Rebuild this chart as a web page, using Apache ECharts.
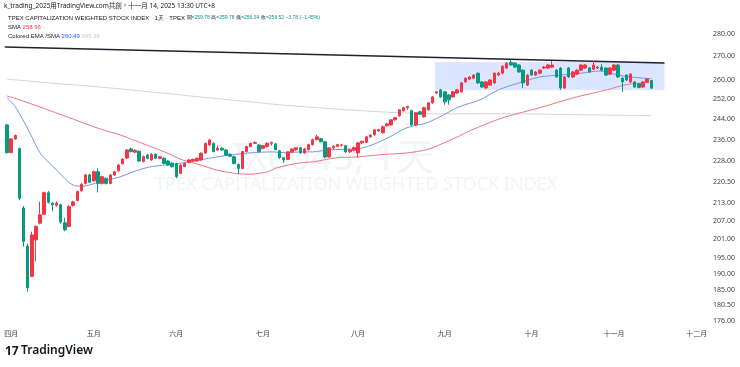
<!DOCTYPE html>
<html><head><meta charset="utf-8">
<script src="https://cdn.jsdelivr.net/npm/echarts@6/dist/echarts.min.js"></script>
<style>html,body{margin:0;padding:0;background:#fff}#c{width:740px;height:367px}</style>
</head><body><div id="c"></div>
<script>
// trading days shown (2025)
const dates = ['03-31',
'04-01','04-02','04-07','04-08','04-09','04-10','04-11','04-14','04-15','04-16','04-17','04-18','04-21','04-22','04-23','04-24','04-25','04-28','04-29','04-30',
'05-02','05-05','05-06','05-07','05-08','05-09','05-12','05-13','05-14','05-15','05-16','05-19','05-20','05-21','05-22','05-23','05-26','05-27','05-28','05-29',
'06-02','06-03','06-04','06-05','06-06','06-09','06-10','06-11','06-12','06-13','06-16','06-17','06-18','06-19','06-20','06-23','06-24','06-25','06-26','06-27','06-30',
'07-01','07-02','07-03','07-04','07-07','07-08','07-09','07-10','07-11','07-14','07-15','07-16','07-17','07-18','07-21','07-22','07-23','07-24','07-25','07-28','07-29','07-30','07-31',
'08-01','08-04','08-05','08-06','08-07','08-08','08-11','08-12','08-13','08-14','08-15','08-18','08-19','08-20','08-21','08-22','08-25','08-26','08-27','08-28','08-29',
'09-01','09-02','09-03','09-04','09-05','09-08','09-09','09-10','09-11','09-12','09-15','09-16','09-17','09-18','09-19','09-22','09-23','09-24','09-25','09-26','09-30',
'10-01','10-02','10-03','10-07','10-08','10-09','10-13','10-14','10-15','10-16','10-17','10-20','10-21','10-22','10-23','10-27','10-28','10-29','10-30','10-31',
'11-03','11-04','11-05','11-06','11-07','11-10','11-11','11-12','11-13','11-14'];
const futureDates = ['11-17','11-18','11-19','11-20','11-21','11-24','11-25','11-26','11-27','11-28','12-01','12-02','12-03'];

const opens = [241.7,231.2,236.3,232.7,211.3,198.7,189.2,200.7,206.2,209.2,216.6,213.0,212.2,212.4,206.3,205.1,212.2,213.9,217.3,219.9,222.9,
220.8,224.1,219.9,221.7,219.9,222.9,224.4,227.0,229.1,232.5,231.3,231.6,227.8,230.2,228.4,230.5,229.0,229.0,228.0,227.2,
227.1,223.5,226.0,227.5,228.0,228.0,228.4,231.0,234.0,234.6,232.1,232.8,232.1,230.5,229.6,226.7,225.3,231.5,233.4,234.6,234.0,
232.7,233.4,234.6,234.4,231.8,229.2,228.6,231.4,232.2,232.9,231.0,232.2,234.1,236.0,236.4,235.2,229.5,232.9,233.5,233.9,233.7,231.4,232.0,
231.0,234.8,235.0,237.1,237.9,239.4,238.7,241.4,241.7,243.7,245.3,247.3,248.5,247.3,241.7,246.9,244.9,247.7,250.5,254.5,255.8,
255.0,253.7,252.9,254.5,255.0,259.1,260.3,260.7,262.8,259.1,256.6,257.8,258.7,262.0,262.8,265.0,267.5,267.1,266.3,264.1,257.8,
264.1,262.0,262.8,265.0,265.0,265.4,264.1,265.0,256.6,265.0,261.2,262.4,264.1,265.0,265.0,264.5,265.0,265.4,265.0,262.4,
264.1,266.3,260.7,262.0,259.1,259.1,258.3,257.0,259.1,259.78];
const highs = [242.1,236.6,238.0,233.0,212.0,199.5,203.4,205.5,213.5,217.0,217.2,213.3,213.5,212.8,208.0,212.3,213.8,217.4,220.0,223.2,223.3,
224.5,225.3,222.6,222.0,223.2,224.4,226.9,229.0,232.4,233.0,232.4,232.0,230.0,230.6,230.9,230.9,229.9,229.4,228.3,227.6,
227.4,226.9,227.4,228.7,228.9,229.3,231.2,234.9,236.3,235.0,233.8,233.2,232.5,230.9,230.0,227.1,231.8,233.7,234.9,235.4,234.3,
234.0,235.0,235.2,234.8,232.2,229.5,231.6,232.7,233.2,233.3,232.9,234.4,236.4,237.9,236.7,235.6,233.0,233.8,234.4,234.4,234.0,232.6,233.4,
234.9,235.6,237.5,238.0,240.0,240.1,241.4,242.5,243.9,244.9,247.9,248.9,249.3,247.7,246.7,247.3,248.9,250.9,253.3,255.4,256.2,
255.4,254.1,255.4,256.2,259.1,261.0,261.6,262.4,263.1,259.5,259.5,260.3,263.1,263.3,266.1,267.5,268.4,267.5,266.7,264.5,262.4,
264.5,263.7,264.5,265.8,266.7,268.0,264.5,265.4,261.6,265.4,263.7,264.5,266.7,266.7,265.4,268.0,265.8,266.7,265.4,265.4,
266.7,266.7,261.1,262.4,262.8,259.5,258.7,259.5,260.7,259.78];
const lows = [230.8,230.8,236.0,214.0,198.5,184.6,189.0,193.8,205.8,209.0,212.8,210.2,211.8,206.0,203.5,204.8,211.8,213.6,217.0,219.6,220.0,
220.5,216.7,219.5,219.5,219.6,222.6,224.1,226.7,228.8,231.2,230.9,227.6,227.5,228.7,228.1,228.7,228.7,226.8,226.2,225.6,
221.7,223.2,225.7,227.2,227.7,227.7,228.1,230.7,233.7,231.2,231.8,231.8,229.9,229.5,226.8,223.2,225.0,231.2,233.1,234.3,231.2,
232.4,233.1,233.7,232.0,228.8,227.3,228.4,231.0,231.8,230.7,230.7,231.9,233.8,235.7,235.0,229.0,229.2,232.5,233.2,233.4,231.0,231.0,231.6,
229.2,234.2,234.7,236.7,237.5,239.0,238.3,241.0,241.4,243.4,245.0,247.0,247.7,241.4,241.3,245.6,244.5,247.3,250.1,254.1,252.5,
249.7,249.7,252.5,254.1,254.6,258.7,259.9,260.3,258.3,256.6,256.2,257.4,258.3,261.6,262.4,264.6,266.0,265.0,263.0,256.6,257.4,
261.6,261.6,262.4,264.6,264.6,265.0,260.8,255.8,256.2,260.8,260.8,262.0,263.7,264.6,263.0,264.1,264.6,263.7,261.6,262.0,
263.7,260.8,255.0,259.5,258.7,256.6,256.4,256.6,258.7,256.34];
const closes = [231.1,236.3,237.6,214.7,200.2,185.7,202.3,205.1,209.0,216.6,213.3,212.4,213.0,206.6,204.0,211.8,213.4,217.0,219.6,222.9,220.3,
224.1,219.9,222.3,219.9,222.9,224.1,226.5,228.7,232.1,231.5,232.0,228.0,229.6,229.0,230.5,229.0,229.6,227.1,226.5,225.9,
222.3,226.5,227.1,228.4,228.6,229.0,230.9,234.6,235.9,231.5,232.8,232.1,230.2,229.8,227.1,225.3,231.5,233.4,234.6,234.9,231.5,
233.7,234.6,235.0,232.2,229.2,228.4,231.4,232.5,232.9,231.0,232.5,234.1,236.0,237.1,235.2,229.5,232.9,233.5,234.1,234.0,231.4,232.2,233.0,
234.8,235.4,237.1,237.8,239.8,239.9,241.0,242.1,243.7,244.5,247.7,248.5,249.0,241.7,246.5,245.9,248.5,250.5,252.9,255.0,252.9,
250.9,251.7,255.0,255.8,258.7,260.7,261.2,262.0,258.7,257.0,259.1,259.9,262.8,262.8,265.8,267.1,266.3,265.4,263.3,258.7,262.0,
262.0,263.3,264.1,265.4,266.3,266.3,261.2,256.6,261.2,261.2,263.3,264.1,266.3,266.3,263.3,266.3,265.4,264.1,262.0,265.0,
266.3,261.2,259.1,259.9,262.4,257.0,256.8,259.1,260.3,256.52];

// indicator lines: [bar index, value]
const emaLine = [[0,252.5],[2,248.9],[5.5,238.7],[8,231.0],[12,224.7],[16,219.3],[18.3,218.9],[22.4,220.4],[27.3,222.2],[30.4,224.0],[34.5,225.8],[38.7,226.6],[42.5,227.3],[46.7,228.4],[50.8,229.5],[54.6,230.3],[58.8,231.0],[64.3,231.4],[67.7,231.0],[70.9,231.4],[74,231.4],[78,232.2],[84.7,232.5],[88.5,234.1],[92.7,237.1],[96.8,240.6],[101.6,242.5],[104.8,244.9],[109.5,248.9],[114.5,251.7],[119,255.8],[124,258.7],[129,261.2],[134,262.0],[139,262.8],[143.5,263.7],[147,262.4],[150.8,261.2],[156,260.49]];
const smaLine = [[0,253.3],[3.1,251.7],[14.5,244.9],[22.4,240.2],[27.3,237.9],[30.4,236.0],[38.7,231.0],[42.5,228.4],[46.7,226.6],[50.8,224.7],[54.6,223.6],[58.8,223.2],[62.9,224.0],[65.3,225.5],[70.9,227.3],[74,227.7],[79.8,229.2],[84.7,229.5],[90.2,230.3],[96.8,231.0],[101.6,232.2],[104.8,234.1],[109.6,237.5],[112,239.4],[120,244.5],[129,248.5],[137,252.5],[145.2,255.8],[150,258.0],[156,258.96]];
const longSmaLine = [[0,260.3],[10.3,258.7],[22.4,257.0],[34.5,255.0],[46.7,252.9],[58.8,250.9],[66,249.7],[82.3,247.7],[95,246.5],[104.8,246.1],[119,246.1],[131.4,245.9],[156,245.36]];
const trendLine = [[-0.55,274.2],[159.2,267.2]];
const boxX = [103.6,159.2];
const boxY = [255.8,267.6];
const yTicks = [176,180.5,185,190,195,201,207,213,220.5,228,236,244,252,260,270,280];
const monthNames = {'04':'四月','05':'五月','06':'六月','07':'七月','08':'八月','09':'九月','10':'十月','11':'十一月','12':'十二月'};
const lastPrice = 256.52;

const allDates = dates.concat(futureDates);
const candles = opens.map((o,i)=>[o, closes[i], lows[i], highs[i]]);
const UP='#f23645', DOWN='#089981';
const FONT='"Noto Sans","Noto Sans CJK TC",sans-serif';

const chart = echarts.init(document.getElementById('c'), null, {renderer:'canvas'});
chart.setOption({
  animation:false,
  backgroundColor:'#ffffff',
  textStyle:{fontFamily:FONT},
  grid:{left:5,right:33,top:14,bottom:41},
  xAxis:[{
    type:'category', data:allDates, boundaryGap:true,
    axisLine:{show:false}, axisTick:{show:false}, splitLine:{show:false},
    axisLabel:{
      interval:(idx,val)=> idx>0 && val.slice(0,2)!==allDates[idx-1].slice(0,2),
      formatter:v=>monthNames[v.slice(0,2)]||'',
      fontSize:7, color:'#3b3f4a', margin:4, fontFamily:FONT
    }
  },{
    type:'value', min:-0.5, max:allDates.length-0.5, show:false
  }],
  yAxis:{
    type:'log', logBase:10, min:174.6, max:289.2, position:'right',
    axisLine:{show:false}, axisTick:{show:false}, splitLine:{show:false},
    axisLabel:{customValues:yTicks, formatter:v=>Number(v).toFixed(2), fontSize:7, color:'#3b3f4a', margin:6, align:'left', fontFamily:FONT}
  },
  graphic:[
    {type:'text', left:232, top:140, z:-10, silent:true, style:{text:'IX0043, 1天', font:'38px "Noto Sans","Noto Sans CJK TC",sans-serif', fill:'#f3f4f7'}},
    {type:'text', left:155, top:176, z:-10, silent:true, style:{text:'TPEX CAPITALIZATION WEIGHTED STOCK INDEX', font:'18px "Noto Sans",sans-serif', fill:'#f3f4f7'}},
    {type:'text', left:4, top:3, style:{text:'k_trading_2025用TradingView.com共創，十一月 14, 2025 13:30 UTC+8', font:'6.5px "Noto Sans","Noto Sans CJK TC",sans-serif', fill:'#131722'}},
    {type:'text', left:8, top:15, style:{
      text:'{n|TPEX CAPITALIZATION WEIGHTED STOCK INDEX · 1天 · TPEX} {s|開}{g|=259.78} {s|高}{g|=259.78} {s|低}{g|=256.34} {s|收}{g|=256.52 −3.78 (−1.45%)}',
      font:'6px "Noto Sans","Noto Sans CJK TC",sans-serif',
      rich:{n:{fill:'#131722',fontSize:6},s:{fill:'#131722',fontSize:5},g:{fill:DOWN,fontSize:5}}}},
    {type:'text', left:8, top:24.5, style:{text:'{n|SMA} {r|258.96}', font:'6px "Noto Sans",sans-serif', rich:{n:{fill:'#131722',fontSize:6},r:{fill:'#f23645',fontSize:6}}}},
    {type:'text', left:8, top:33.5, style:{text:'{n|Colored EMA /SMA} {b|260.49} {l|245.36}', font:'6px "Noto Sans",sans-serif', rich:{n:{fill:'#131722',fontSize:6},b:{fill:'#2962ff',fontSize:6},l:{fill:'#c4c7cf',fontSize:6}}}},
    {type:'text', left:5, top:346, style:{text:'17', font:'bold 12px "Noto Sans",sans-serif', fill:'#131722'}},
    {type:'text', left:21, top:345, style:{text:'TradingView', font:'600 12px "Noto Sans",sans-serif', fill:'#131722'}}
  ],
  series:[
    {type:'line', xAxisIndex:1, z:1, data:trendLine, symbol:'none', lineStyle:{color:'#1e222d', width:1.5},
      markArea:{silent:true, itemStyle:{color:'rgba(41,98,255,0.17)'}, data:[[{coord:[boxX[0],boxY[1]]},{coord:[boxX[1],boxY[0]]}]]}},
    {type:'line', xAxisIndex:1, z:2, data:longSmaLine, symbol:'none', smooth:0.3, lineStyle:{color:'#d3d5db', width:1}},
    {type:'line', xAxisIndex:1, z:2, data:smaLine, symbol:'none', smooth:0.3, lineStyle:{color:'#f07582', width:1}},
    {type:'line', xAxisIndex:1, z:2, data:emaLine, symbol:'none', smooth:0.3, lineStyle:{color:'#7893ee', width:1}},
    {type:'candlestick', z:3, data:candles, barWidth:3,
      itemStyle:{color:UP, color0:DOWN, borderColor:UP, borderColor0:DOWN, borderWidth:1},
      markLine:{silent:true, symbol:'none', lineStyle:{opacity:0},
        data:[{yAxis:lastPrice}],
        label:{position:'end', formatter:lastPrice.toFixed(2), backgroundColor:DOWN, color:'#fff', fontSize:7, padding:[2,3,1,3], distance:2, fontFamily:FONT}}}
  ]
});
</script></body></html>
